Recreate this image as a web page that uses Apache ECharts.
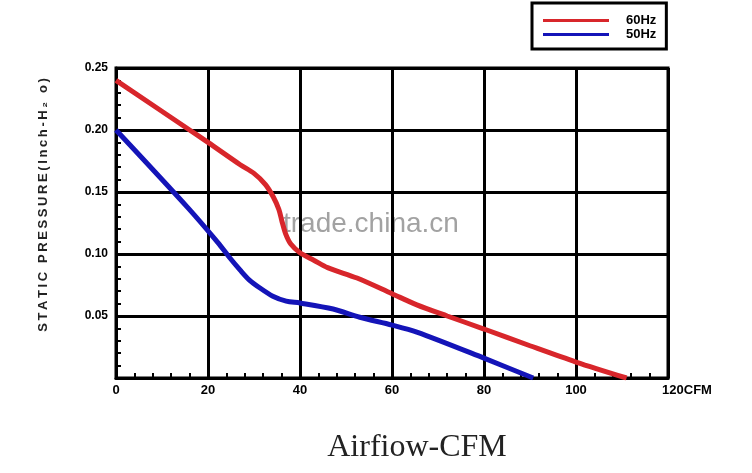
<!DOCTYPE html>
<html>
<head>
<meta charset="utf-8">
<script src="https://cdn.jsdelivr.net/npm/echarts@6/dist/echarts.min.js"></script>
<style>
  html, body { margin: 0; padding: 0; background: #fff; }
  #chart { width: 752px; height: 473px; }
</style>
</head>
<body>
<div id="chart"></div>
<script>
// fan curve, airflow (CFM) vs static pressure (inch H2O)
var xTicks = [0, 20, 40, 60, 80, 100, 120]
var yTicks = [0, 0.05, 0.10, 0.15, 0.20, 0.25]

var flow60 = [0, 16, 20, 27, 30, 32.5, 34.2, 35.4, 36.1, 36.9, 38, 40, 43, 46, 52.4, 60, 65.4, 72, 80, 90, 100, 111]
var pres60 = [0.24, 0.20, 0.19, 0.172, 0.165, 0.156, 0.146, 0.136, 0.126, 0.116, 0.108, 0.101, 0.095, 0.089, 0.0806, 0.068, 0.059, 0.050, 0.0395, 0.026, 0.0129, 0]

var flow50 = [0, 15.7, 22.2, 24.5, 27, 29, 31.3, 34.1, 37, 40, 47.2, 53, 60, 65.4, 80, 90.7]
var pres50 = [0.20, 0.137, 0.109, 0.098, 0.087, 0.079, 0.0726, 0.066, 0.062, 0.0605, 0.0556, 0.049, 0.0427, 0.037, 0.016, 0]

function pairs(xs, ys) {
  return xs.map(function (x, i) { return [x, ys[i]] })
}

// spread the letters a bit, like the original label
var yName = 'STATIC PRESSURE(Inch-H\u2082 o)'.split('').join('\u2009')

var chart = echarts.init(document.getElementById('chart'))

chart.setOption({
  animation: false,
  color: ['#d8262b', '#1414b8'],
  textStyle: { fontFamily: 'Liberation Sans, Arial, sans-serif' },
  grid: {
    left: 116,
    right: 84,
    top: 68,
    bottom: 95,
    show: true,
    borderColor: '#000',
    borderWidth: 3
  },
  legend: {
    left: 532,
    top: 3,
    orient: 'vertical',
    padding: [11, 10, 8, 11],
    itemGap: 1,
    itemWidth: 66,
    itemHeight: 3,
    icon: 'rect',
    borderColor: '#000',
    borderWidth: 3,
    textStyle: { fontSize: 13, fontWeight: 'bold', color: '#000', padding: [0, 0, 0, 12] },
    data: ['60Hz', '50Hz']
  },
  xAxis: {
    type: 'value',
    min: xTicks[0],
    max: xTicks[xTicks.length - 1],
    interval: 20,
    axisLine: { lineStyle: { color: '#000', width: 3 } },
    axisTick: { show: false },
    minorTick: { show: true, splitNumber: 5, length: -5, lineStyle: { color: '#000', width: 2 } },
    splitLine: { show: true, lineStyle: { color: '#000', width: 3 } },
    axisLabel: {
      color: '#000',
      fontSize: 13,
      fontWeight: 'bold',
      margin: 6,
      formatter: function (v) {
        return v === 120 ? '{u|120CFM}' : String(v)
      },
      rich: {
        u: { fontSize: 13, fontWeight: 'bold', color: '#000', padding: [0, 0, 0, 38] }
      }
    }
  },
  yAxis: {
    type: 'value',
    min: yTicks[0],
    max: yTicks[yTicks.length - 1],
    interval: 0.05,
    name: yName,
    nameLocation: 'middle',
    nameGap: 66,
    nameTextStyle: { color: '#222', fontSize: 13, fontWeight: 'bold', padding: [0, 0, 0, 36] },
    axisLine: { show: true, lineStyle: { color: '#000', width: 3 } },
    axisTick: { show: false },
    minorTick: { show: true, splitNumber: 5, length: -5, lineStyle: { color: '#000', width: 2 } },
    splitLine: { show: true, lineStyle: { color: '#000', width: 3 } },
    axisLabel: {
      color: '#000',
      fontSize: 12,
      fontWeight: 'bold',
      margin: 8,
      formatter: function (v) { return v === 0 ? '' : v.toFixed(2) }
    }
  },
  graphic: [
    {
      type: 'text',
      left: 283,
      top: 210,
      silent: true,
      style: { text: 'trade.china.cn', font: '28px Liberation Sans, Arial, sans-serif', fill: 'rgba(100,100,100,0.6)' }
    },
    {
      type: 'text',
      x: 417,
      y: 448,
      style: {
        text: 'Airfiow-CFM',
        font: '32px Liberation Serif, Times New Roman, serif',
        fill: '#222',
        align: 'center',
        verticalAlign: 'middle'
      }
    }
  ],
  series: [
    {
      name: '60Hz',
      type: 'line',
      smooth: 0.3,
      showSymbol: false,
      lineStyle: { width: 5 },
      data: pairs(flow60, pres60)
    },
    {
      name: '50Hz',
      type: 'line',
      smooth: 0.3,
      showSymbol: false,
      lineStyle: { width: 5 },
      data: pairs(flow50, pres50)
    }
  ]
})
</script>
</body>
</html>
